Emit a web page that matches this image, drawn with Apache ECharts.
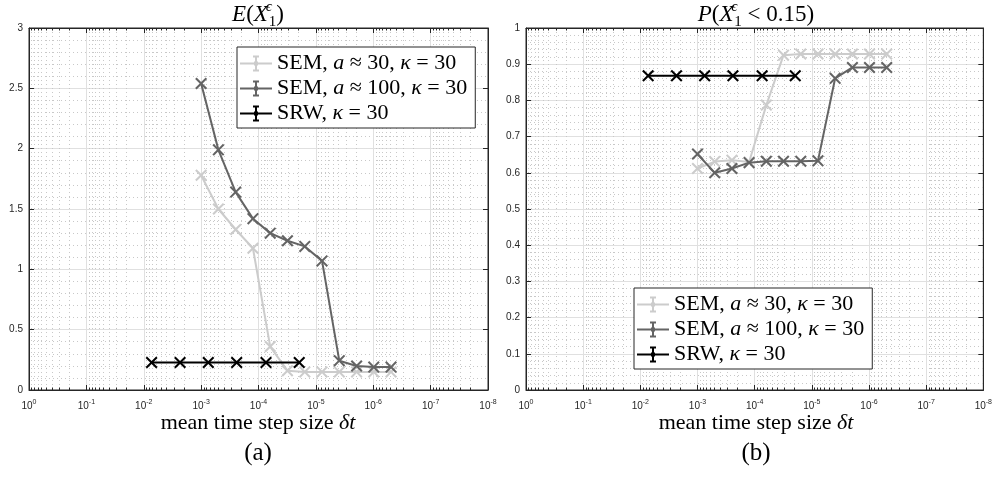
<!DOCTYPE html>
<html>
<head>
<meta charset="utf-8">
<script src="https://cdn.jsdelivr.net/npm/echarts@6/dist/echarts.min.js"></script>
<style>
html, body { margin: 0; padding: 0; background: #fff; }
#chart { width: 995px; height: 485px; }
</style>
</head>
<body>
<div id="chart"></div>
<script>
// mean time step sizes (x values)
const semDt = [1e-3, 5e-4, 2.5e-4, 1.25e-4, 6.25e-5, 3.13e-5, 1.56e-5, 7.81e-6, 3.91e-6, 1.95e-6, 9.8e-7, 4.9e-7]
const srwDt = [7.3e-3, 2.33e-3, 7.5e-4, 2.4e-4, 7.4e-5, 1.95e-5]

// (a) E(X_1)
const meanSem30 = [1.78, 1.50, 1.33, 1.175, 0.36, 0.16, 0.15, 0.15, 0.15, 0.15, 0.15, 0.15]
const meanSem100 = [2.54, 1.99, 1.64, 1.42, 1.30, 1.237, 1.19, 1.07, 0.243, 0.199, 0.19, 0.19]
const meanSrw = [0.228, 0.228, 0.228, 0.228, 0.228, 0.228]

// (b) P(X_1 < 0.15)
const probSem30 = [0.612, 0.631, 0.635, 0.63, 0.787, 0.925, 0.928, 0.928, 0.928, 0.928, 0.928, 0.928]
const probSem100 = [0.652, 0.600, 0.612, 0.628, 0.632, 0.632, 0.632, 0.633, 0.861, 0.891, 0.891, 0.891]
const probSrw = [0.868, 0.868, 0.868, 0.868, 0.868, 0.868]

const seriesNames = ['SEM, a≈30, κ=30', 'SEM, a≈100, κ=30', 'SRW, κ=30']
const legendLabels = ['SEM, {i|a} ≈ 30, {i|κ} = 30', 'SEM, {i|a} ≈ 100, {i|κ} = 30', 'SRW, {i|κ} = 30']
const seriesColors = ['#cccccc', '#646464', '#000000']
const xAxisTitle = 'mean time step size {i|δt}'

const serif = '"Liberation Serif", "Times New Roman", serif'
const sans = '"Liberation Sans", Arial, Helvetica, sans-serif'
const axisColor = '#262626'

// filled "x" marker and errorbar legend icon
const crossSymbol = 'path://M1.2,0L5,3.8L8.8,0L10,1.2L6.2,5L10,8.8L8.8,10L5,6.2L1.2,10L0,8.8L3.8,5L0,1.2Z'
const errorBarIcon = 'path://M0,8h32v2h-32z M15,2h2v14h-2z M13,1h6v2h-6z M13,15h6v2h-6z M14,7h4v4h-4z'

const chart = echarts.init(document.getElementById('chart'))

function powerLabel(v) {
  const e = Math.round(Math.log10(v))
  return '10{sup|' + e + '}'
}

function logAxis(gridIndex, position, main) {
  return {
    type: 'log',
    logBase: 10,
    gridIndex,
    position,
    min: 1e-8,
    max: 1,
    inverse: true,
    splitNumber: 8,
    axisLine: { show: true, onZero: false, lineStyle: { color: axisColor, width: 1 } },
    axisTick: { show: true, inside: true, length: 5, lineStyle: { color: axisColor } },
    minorTick: { show: true, splitNumber: 9, length: 2.5, lineStyle: { color: axisColor } },
    axisLabel: main ? {
      show: true,
      margin: 9,
      showMinLabel: true,
      showMaxLabel: true,
      color: axisColor,
      fontFamily: sans,
      fontSize: 10,
      lineHeight: 14,
      formatter: powerLabel,
      rich: { sup: { fontFamily: sans, fontSize: 7, lineHeight: 7, verticalAlign: 'top', color: axisColor } }
    } : { show: false },
    splitLine: { show: main, lineStyle: { color: '#e0e0e0', width: 1 } },
    minorSplitLine: { show: main, lineStyle: { color: '#c8c8c8', width: 1, type: [1, 3] } }
  }
}

function valueAxis(gridIndex, position, max, interval, main) {
  return {
    type: 'value',
    gridIndex,
    position,
    min: 0,
    max,
    interval,
    axisLine: { show: true, onZero: false, lineStyle: { color: axisColor, width: 1 } },
    axisTick: { show: true, inside: true, length: 5, lineStyle: { color: axisColor } },
    minorTick: { show: false, splitNumber: 5 },
    axisLabel: main ? { show: true, margin: 6, color: axisColor, fontFamily: sans, fontSize: 10 } : { show: false },
    splitLine: { show: main, lineStyle: { color: '#e0e0e0', width: 1 } },
    minorSplitLine: { show: main, lineStyle: { color: '#c8c8c8', width: 1, type: [1, 3] } }
  }
}

function legendAt(left, top) {
  return {
    orient: 'vertical',
    left,
    top,
    data: seriesNames.map((n, i) => ({ name: n, icon: errorBarIcon, itemStyle: { color: seriesColors[i], borderWidth: 0 } })),
    itemWidth: 32,
    itemHeight: 18,
    itemGap: 0,
    padding: [4, 8, 2, 3],
    borderColor: axisColor,
    borderWidth: 1,
    borderRadius: 0,
    backgroundColor: '#fff',
    selectedMode: false,
    formatter: n => legendLabels[seriesNames.indexOf(n)],
    textStyle: {
      fontFamily: serif, fontSize: 22, color: '#000', lineHeight: 25,
      rich: { i: { fontFamily: serif, fontStyle: 'italic', fontSize: 22, lineHeight: 25, color: '#000' } }
    }
  }
}

function lineSeries(idx, dt, vals, axisIdx) {
  return {
    name: seriesNames[idx],
    type: 'line',
    xAxisIndex: axisIdx,
    yAxisIndex: axisIdx,
    data: dt.map((d, i) => [d, vals[i]]),
    symbol: crossSymbol,
    symbolSize: 12,
    itemStyle: { color: seriesColors[idx] },
    lineStyle: { color: seriesColors[idx], width: 2 },
    emphasis: { disabled: true },
    z: 3 + idx
  }
}

function mathTitle(x, text) {
  return {
    type: 'text',
    x,
    y: 15,
    style: {
      text,
      align: 'center',
      verticalAlign: 'middle',
      fontFamily: serif,
      fontSize: 23,
      lineHeight: 30,
      fill: '#000',
      rich: {
        i: { fontFamily: serif, fontStyle: 'italic', fontSize: 23, lineHeight: 30 },
        sp: { fontSize: 3 },
        sup: { fontFamily: serif, fontStyle: 'italic', fontSize: 15, lineHeight: 13, verticalAlign: 'top', width: 0 },
        sub: { fontFamily: serif, fontSize: 15, lineHeight: 13, verticalAlign: 'bottom' }
      }
    }
  }
}

function textAt(x, y, text, size) {
  return {
    type: 'text',
    x,
    y,
    style: {
      text, align: 'center', verticalAlign: 'middle', fontFamily: serif, fontSize: size, fill: '#000',
      rich: { i: { fontFamily: serif, fontStyle: 'italic', fontSize: size } }
    }
  }
}

const option = {
  animation: false,
  backgroundColor: '#fff',
  grid: [
    { left: 29, top: 28, width: 459, height: 362, show: true, borderColor: axisColor, borderWidth: 1, backgroundColor: '#fff' },
    { left: 526, top: 28, width: 460, height: 362, show: true, borderColor: axisColor, borderWidth: 1, backgroundColor: '#fff' }
  ],
  xAxis: [
    logAxis(0, 'bottom', true),
    logAxis(0, 'top', false),
    logAxis(1, 'bottom', true),
    logAxis(1, 'top', false)
  ],
  yAxis: [
    valueAxis(0, 'left', 3, 0.5, true),
    valueAxis(0, 'right', 3, 0.5, false),
    valueAxis(1, 'left', 1, 0.1, true),
    valueAxis(1, 'right', 1, 0.1, false)
  ],
  legend: [legendAt(237, 47), legendAt(634, 288)],
  graphic: [
    mathTitle(258, '{i|E}({i|X}{sp| }{sup|ϵ}{sub|1})'),
    mathTitle(756, '{i|P}({i|X}{sp| }{sup|ϵ}{sub|1} < 0.15)'),
    textAt(258, 423, xAxisTitle, 22),
    textAt(756, 423, xAxisTitle, 22),
    textAt(258, 453, '(a)', 25),
    textAt(756, 453, '(b)', 25)
  ],
  series: [
    lineSeries(0, semDt, meanSem30, 0),
    lineSeries(1, semDt, meanSem100, 0),
    lineSeries(2, srwDt, meanSrw, 0),
    lineSeries(0, semDt, probSem30, 2),
    lineSeries(1, semDt, probSem100, 2),
    lineSeries(2, srwDt, probSrw, 2)
  ]
}

chart.setOption(option)
</script>
</body>
</html>
